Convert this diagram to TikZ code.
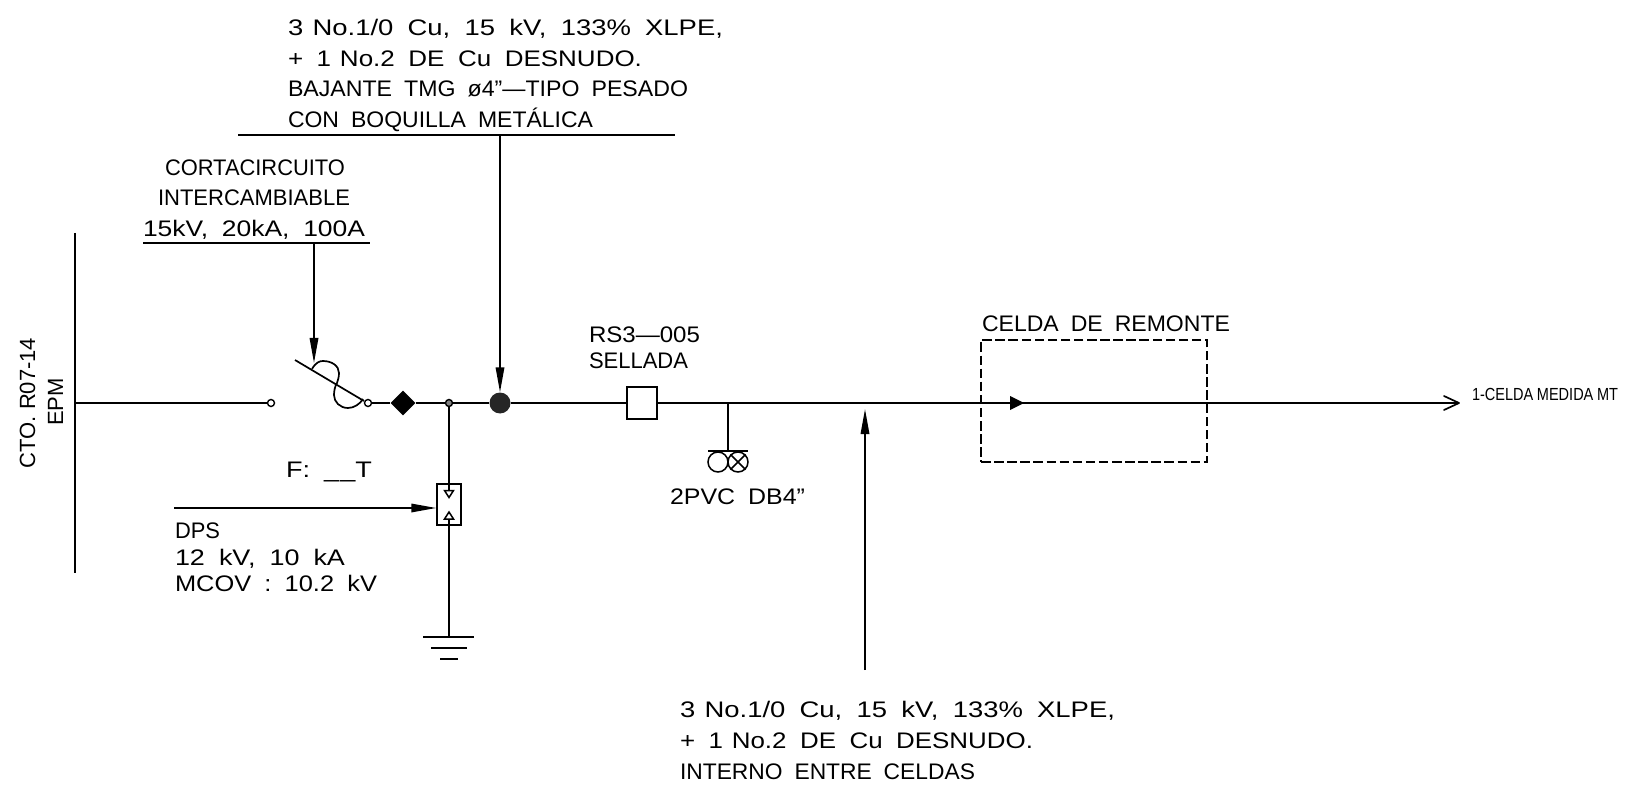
\documentclass[tikz,border=0pt]{standalone}
\usepackage{fontspec}
\setmainfont{Liberation Sans}
\usetikzlibrary{arrows.meta,shapes.geometric}
\newsavebox{\cadbox}
% text set to an exact width by horizontal scaling: \cad{width}{text}
\newcommand{\cad}[2]{\sbox{\cadbox}{\spaceskip=0.52em\relax #2}\pgfmathsetmacro{\cadf}{#1/\the\wd\cadbox}\scalebox{\cadf}[1]{\usebox{\cadbox}}}
\newcommand{\nsp}{\hspace{-0.18em}}
\tikzset{
 wire/.style={line width=1.7pt,black},
 part/.style={draw,line width=1.5pt,inner sep=0pt},
 lbl/.style={inner sep=0pt,outer sep=0pt,anchor=base west,font=\fontsize{22.5}{25}\selectfont},
 pin/.style={-{Triangle[length=25pt,width=8.5pt]},wire},
 term/.style={circle,draw,line width=1.4pt,fill=white,minimum size=7pt,inner sep=0pt},
 rot/.style={rotate=90,inner sep=0pt,anchor=base,font=\fontsize{22}{25}\selectfont},
}
\begin{document}
\begin{tikzpicture}[x=1pt,y=-1pt]
\useasboundingbox (0,0) rectangle (1627,791);
% bus and incoming line
\coordinate (busT) at (75,233); \coordinate (busB) at (75,573); \coordinate (busM) at (75,403);
\draw[wire] (busT) -- (busB);
\node[term] (t1) at (271,403) {};
\node[term] (t2) at (368,403) {};
\draw[wire] (busM) -- (t1);
% fuse cutout
\coordinate (bl1) at (295,360); \coordinate (bl2) at (364,401);
\draw[wire] (bl1) -- (bl2);
\draw[wire] (312,369) .. controls (316,362) and (320,361) .. (323,361) .. controls (332,361) and (339,366) .. (339,373) .. controls (339,377) and (338,380) .. (337,383) .. controls (335,386) and (334,391) .. (334,395) .. controls (334,402) and (340,408) .. (348,408) .. controls (354,408) and (360,404) .. (363,399);
% line elements
\node[diamond,aspect=1,fill=black,minimum size=25pt,inner sep=0pt] (dmd) at (403,403) {};
\node[circle,fill=gray,draw=black,line width=1.4pt,minimum size=7pt,inner sep=0pt] (jn) at (449,403) {};
\node[circle,fill=black!85,minimum size=21pt,inner sep=0pt] (dark) at (500,403) {};
\node[part,minimum width=30pt,minimum height=32pt] (rs) at (642,403) {};
\draw[wire] (t2) -- (dmd) -- (jn) -- (dark) -- (rs);
% surge arrester
\node[part,minimum width=24pt,minimum height=41pt] (dps) at (449,504.5) {};
\coordinate (gnd) at (449,637);
\draw[wire] (jn) -- (dps.north);
\draw[wire] (449,484) -- (449,490);
\draw[wire] (449,519) -- (gnd);
\draw[line width=1.5pt,fill=white] (444.5,490.5) -- (453.5,490.5) -- (449,497.5) -- cycle;
\draw[line width=1.5pt,fill=white] (444.5,519) -- (453.5,519) -- (449,512) -- cycle;
\coordinate (g1a) at (423,637); \coordinate (g1b) at (474,637);
\coordinate (g2a) at (431,648); \coordinate (g2b) at (467,648);
\coordinate (g3a) at (440,659); \coordinate (g3b) at (458,659);
\draw[wire] (g1a) -- (g1b);
\draw[line width=2.1pt] (g2a) -- (g2b);
\draw[line width=2.1pt] (g3a) -- (g3b);
\coordinate (dpsA) at (174,508);
\draw[pin] (dpsA) -- (dps.west |- dpsA);
% main run
\coordinate (end) at (1459,403);
\coordinate (triB) at (1010,403);
\draw[wire] (rs.east) -- (triB);
\draw[line width=2pt] (1020,403) -- (end);
\draw[wire,line cap=round,line join=round] (1444,396) -- (end) -- (1444,410);
% cable marker
\coordinate (cab) at (728,403); \coordinate (cabB) at (728,451);
\draw[wire] (cab) -- (cabB);
\coordinate (cbL) at (708,451); \coordinate (cbR) at (748,451);
\draw[wire] (cbL) -- (cbR);
\node[circle,part,minimum size=20pt] (c1) at (718,462) {};
\node[circle,part,minimum size=20pt] (c2) at (738,462) {};
\draw[line width=1.5pt] (c2.north west) -- (c2.south east) (c2.north east) -- (c2.south west);
% cell
\node[draw,dash pattern=on 9.5pt off 3.6pt,line width=1.6pt,minimum width=226pt,minimum height=122pt,inner sep=0pt] (celda) at (1094,401) {};
\fill (1010,396) -- (1024,403) -- (1010,410) -- cycle;
% pointers
\coordinate (topL) at (238,135); \coordinate (topR) at (675,135); \coordinate (topD) at (500,135);
\draw[wire] (topL) -- (topR);
\draw[pin] (topD) -- (dark.north);
\coordinate (cL) at (143,243); \coordinate (cR) at (370,243); \coordinate (cD) at (314,243); \coordinate (cT) at (314,363);
\draw[wire] (cL) -- (cR);
\draw[pin] (cD) -- (cT);
\coordinate (upS) at (865,670); \coordinate (upT) at (865,409);
\draw[pin] (upS) -- (upT);
% labels
\node[lbl] (a1) at (288,36) {\cad{435}{3 \nsp No.1/0 Cu, 15 kV, 133\% XLPE,}};
\node[lbl] (a2) at (288,67) {\cad{354}{+ 1 \nsp No.2 DE Cu DESNUDO.}};
\node[lbl] (a3) at (288,97) {\cad{400}{BAJANTE TMG ø4”—TIPO PESADO}};
\node[lbl] (a4) at (288,128) {\cad{305}{CON BOQUILLA METÁLICA}};
\node[lbl] (b1) at (165,176) {\cad{180}{CORTACIRCUITO}};
\node[lbl] (b2) at (158,206) {\cad{192}{INTERCAMBIABLE}};
\node[lbl] (b3) at (143,237) {\cad{222}{15kV, 20kA, 100A}};
\node[lbl] (f1) at (286,477) {\cad{86}{F: \_\hspace{1pt}\_T}};
\node[lbl] (d1) at (175,538) {\cad{45}{DPS}};
\node[lbl] (d2) at (175,565) {\cad{170}{12 kV, 10 kA}};
\node[lbl] (d3) at (175,591) {\cad{202}{MCOV : 10.2 kV}};
\node[lbl] (r1) at (589,342) {\cad{111}{RS3—005}};
\node[lbl] (r2) at (589,369) {\cad{99}{SELLADA}};
\node[lbl] (p1) at (670,504) {\cad{135}{2PVC DB4”}};
\node[lbl] (e1) at (982,332) {\cad{248}{CELDA DE REMONTE}};
\node[lbl] (i1) at (680,717) {\cad{435}{3 \nsp No.1/0 Cu, 15 kV, 133\% XLPE,}};
\node[lbl] (i2) at (680,748) {\cad{353}{+ 1 \nsp No.2 DE Cu DESNUDO.}};
\node[lbl] (i3) at (680,779) {\cad{295}{INTERNO ENTRE CELDAS}};
\node[lbl,font=\fontsize{17.5}{20}\selectfont] (m1) at (1472,400) {\cad{146}{1-CELDA \hspace{-0.27em}MEDIDA \hspace{-0.27em}MT}};
\node[rot] (v1) at (35,403) {CTO. R07-14};
\node[rot] (v2) at (63,402) {EPM};
\end{tikzpicture}
\end{document}
